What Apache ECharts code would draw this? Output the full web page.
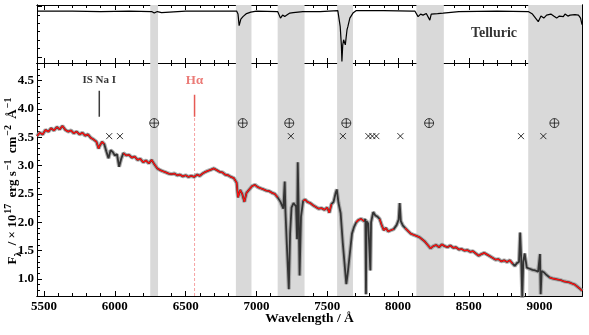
<!DOCTYPE html>
<html>
<head>
<meta charset="utf-8">
<script src="https://cdn.jsdelivr.net/npm/echarts@6/dist/echarts.min.js"></script>
<style>
  html, body { margin: 0; padding: 0; background: #fff; }
  #chart { width: 589px; height: 335px; }
</style>
</head>
<body>
<div id="chart"></div>
<script>
const wave = [5450, 5470, 5490, 5510, 5530, 5550, 5570, 5590, 5610, 5630, 5650, 5670, 5690, 5710, 5730, 5750, 5770, 5790, 5810, 5830,
  5850, 5870, 5885, 5895, 5910, 5925, 5940, 5955, 5970, 5985, 6000, 6015, 6030, 6045, 6060, 6080, 6100, 6120, 6140, 6160,
  6180, 6200, 6220, 6240, 6260, 6280, 6300, 6320, 6340, 6360, 6380, 6400, 6420, 6440, 6460, 6480, 6500, 6520, 6540, 6560,
  6580, 6600, 6620, 6640, 6660, 6680, 6700, 6720, 6740, 6760, 6780, 6800, 6820, 6840, 6860, 6870, 6885, 6900, 6915, 6930,
  6950, 6970, 6990, 7010, 7030, 7050, 7070, 7090, 7110, 7130, 7150, 7170, 7190, 7196, 7200, 7205, 7215, 7229, 7238, 7248,
  7262, 7280, 7287, 7292, 7298, 7305, 7315, 7330, 7345, 7360, 7380, 7400, 7420, 7440, 7460, 7480, 7500, 7515, 7530, 7545,
  7560, 7568, 7580, 7595, 7610, 7625, 7635, 7645, 7660, 7675, 7690, 7705, 7720, 7740, 7760, 7770, 7774, 7778, 7790, 7800,
  7805, 7810, 7825, 7840, 7855, 7870, 7885, 7900, 7915, 7930, 7950, 7970, 7990, 8005, 8012, 8020, 8035, 8050, 8070, 8090,
  8110, 8130, 8150, 8170, 8190, 8210, 8230, 8250, 8270, 8290, 8310, 8330, 8350, 8370, 8390, 8410, 8430, 8450, 8470, 8490,
  8510, 8530, 8550, 8570, 8590, 8610, 8630, 8650, 8670, 8690, 8710, 8730, 8750, 8770, 8790, 8810, 8825, 8840, 8855, 8863,
  8870, 8878, 8885, 8895, 8910, 8930, 8950, 8970, 8990, 9000, 9003, 9008, 9015, 9030, 9050, 9070, 9090, 9110, 9130, 9150,
  9170, 9190, 9210, 9230, 9250, 9270, 9290, 9300];
const flux = [3.52, 3.58, 3.55, 3.63, 3.60, 3.66, 3.62, 3.68, 3.64, 3.70, 3.63, 3.60, 3.62, 3.57, 3.60, 3.55, 3.58, 3.53, 3.55, 3.49,
  3.46, 3.42, 3.30, 3.36, 3.42, 3.38, 3.25, 3.13, 3.27, 3.24, 3.18, 3.20, 2.98, 3.12, 3.22, 3.18, 3.19, 3.14, 3.16, 3.10,
  3.12, 3.06, 3.09, 3.04, 3.10, 3.02, 2.95, 2.92, 2.90, 2.88, 2.86, 2.85, 2.86, 2.83, 2.84, 2.81, 2.83, 2.80, 2.82, 2.80,
  2.84, 2.82, 2.86, 2.89, 2.91, 2.93, 2.95, 2.92, 2.89, 2.88, 2.84, 2.83, 2.80, 2.78, 2.70, 2.44, 2.57, 2.50, 2.36, 2.52,
  2.58, 2.64, 2.66, 2.62, 2.60, 2.58, 2.56, 2.55, 2.52, 2.50, 2.44, 2.36, 2.24, 2.22, 2.72, 2.20, 1.60, 0.82, 1.80, 2.26,
  2.34, 2.28, 1.70, 3.06, 2.30, 1.06, 2.10, 2.38, 2.40, 2.36, 2.34, 2.30, 2.27, 2.24, 2.25, 2.22, 2.26, 2.17, 2.32, 2.36,
  2.52, 2.58, 2.34, 2.16, 1.64, 1.20, 0.91, 1.10, 1.45, 1.80, 1.92, 2.00, 2.04, 2.06, 2.02, 2.06, 0.73, 2.02, 1.98, 1.97,
  1.15, 2.00, 2.18, 2.12, 2.10, 2.06, 1.95, 1.86, 1.90, 1.84, 1.86, 1.88, 1.95, 2.05, 2.34, 2.02, 1.94, 1.90, 1.85, 1.80,
  1.78, 1.76, 1.74, 1.70, 1.66, 1.60, 1.54, 1.58, 1.60, 1.56, 1.61, 1.58, 1.56, 1.59, 1.55, 1.56, 1.52, 1.53, 1.50, 1.51,
  1.48, 1.49, 1.45, 1.41, 1.44, 1.46, 1.43, 1.40, 1.37, 1.34, 1.35, 1.31, 1.33, 1.30, 1.33, 1.27, 1.23, 1.28, 1.30, 1.82,
  1.40, 0.66, 1.30, 1.45, 1.20, 1.18, 1.16, 1.15, 1.13, 1.12, 1.44, 0.73, 1.14, 1.12, 1.07, 1.03, 1.01, 1.00, 0.99, 0.98,
  0.96, 0.95, 0.94, 0.92, 0.90, 0.86, 0.82, 0.79];
// wavelength ranges where the red model is not drawn
const modelGaps = [[5935, 6050], [7155, 7325], [7535, 7698], [7765, 7865], [7980, 8040], [8815, 9060]];

// telluric transmission, top panel
const tellWave = [5450, 5700, 5900, 6100, 6260, 6278, 6300, 6330, 6500, 6860, 6870, 6878, 6890, 6905, 6930, 6960, 7000, 7150, 7170, 7185,
  7200, 7215, 7236, 7260, 7328, 7450, 7575, 7592, 7600, 7604, 7610, 7616, 7628, 7640, 7646, 7660, 7682, 7706, 7900, 8100,
  8119, 8142, 8160, 8177, 8200, 8225, 8235, 8248, 8280, 8319, 8430, 8700, 8920, 8950, 8991, 9010, 9030, 9050, 9080, 9100,
  9121, 9140, 9168, 9180, 9200, 9216, 9250, 9275, 9290, 9300];
const tellTrans = [0.91, 0.91, 0.90, 0.91, 0.90, 0.87, 0.90, 0.88, 0.91, 0.91, 0.85, 0.62, 0.75, 0.80, 0.86, 0.89, 0.91, 0.90, 0.77, 0.83,
  0.80, 0.83, 0.87, 0.88, 0.90, 0.90, 0.92, 0.60, 0.24, -0.09, 0.24, 0.34, 0.24, 0.54, 0.60, 0.77, 0.87, 0.92, 0.92, 0.91,
  0.91, 0.80, 0.85, 0.83, 0.86, 0.73, 0.85, 0.83, 0.86, 0.87, 0.90, 0.91, 0.90, 0.85, 0.70, 0.81, 0.77, 0.83, 0.85, 0.81,
  0.77, 0.81, 0.80, 0.85, 0.81, 0.83, 0.84, 0.83, 0.77, 0.64];

// grey telluric bands
const bands = [[6250, 6305], [6855, 6965], [7150, 7340], [7570, 7682], [8130, 8324], [8920, 9300]];
// marker rows
const earthWave = [6278, 6903, 7232, 7635, 8220, 9105];
const earthLevel = 3.75;
const crossWave = [5960, 6036, 7243, 7611, 7791, 7819, 7847, 8017, 8869, 9027];
const crossLevel = 3.52;
// line markers
const naWave = 5890, naSpan = [3.86, 4.32];
const haWave = 6563, haSpan = [3.86, 4.25], haDash = [0.7, 3.86];
const labelLevel = 4.5;

// axes
const X_MIN = 5450, X_MAX = 9300;
const xMajor = [5500, 6000, 6500, 7000, 7500, 8000, 8500, 9000];
const xMinor = [];
for (let v = 5500; v <= 9300; v += 100) if (v % 500 !== 0) xMinor.push(v);
const yMajor = [1.0, 1.5, 2.0, 2.5, 3.0, 3.5, 4.0, 4.5];
const yMinor = [];
for (let v = 8; v <= 48; v++) if (v % 5 !== 0) yMinor.push(v / 10);
const tMajor = [0, 1];
const tMinor = [1 / 6, 2 / 6, 3 / 6, 4 / 6, 5 / 6];

const FONT = 'Liberation Serif';

const model = wave.map((w, i) =>
  modelGaps.some(g => w >= g[0] && w <= g[1]) ? [w, null] : [w, flux[i]]);
const obs = wave.map((w, i) => [w, flux[i]]);
const tell = tellWave.map((w, i) => [w, tellTrans[i]]);
const bandAreas = bands.map(b => [{ xAxis: b[0] }, { xAxis: b[1] }]);

function axis(extra, ticks, len) {
  return Object.assign({
    type: 'value',
    axisLine: { show: true, onZero: false, lineStyle: { color: '#000', width: 1 } },
    axisTick: { show: true, inside: true, length: len, customValues: ticks, lineStyle: { color: '#000', width: 1 } },
    axisLabel: { show: false },
    splitLine: { show: false }
  }, extra);
}

const xAxes = [];
const yAxes = [];
[0, 1].forEach(g => {
  ['bottom', 'top'].forEach(pos => {
    xAxes.push(axis({ gridIndex: g, position: pos, min: X_MIN, max: X_MAX }, xMajor, 5));
    xAxes.push(axis({ gridIndex: g, position: pos, min: X_MIN, max: X_MAX }, xMinor, 3));
  });
  const yr = g === 0 ? { min: -0.12, max: 1.03 } : { min: 0.7, max: 4.81 };
  const maj = g === 0 ? tMajor : yMajor;
  const mnr = g === 0 ? tMinor : yMinor;
  ['left', 'right'].forEach(pos => {
    yAxes.push(axis(Object.assign({ gridIndex: g, position: pos }, yr), maj, 5));
    yAxes.push(axis(Object.assign({ gridIndex: g, position: pos }, yr), mnr, 3));
  });
});

// labelled axes of the lower panel
xAxes[4].axisLabel = {
  show: true, customValues: xMajor, margin: 4, formatter: v => String(v),
  fontFamily: FONT, fontWeight: 'bold', fontSize: 13, color: '#000'
};
xAxes[4].name = 'Wavelength / Å';
xAxes[4].nameLocation = 'middle';
xAxes[4].nameGap = 16;
xAxes[4].nameMoveOverlap = false;
xAxes[4].nameTextStyle = { fontFamily: FONT, fontWeight: 'bold', fontSize: 13.5, color: '#000', verticalAlign: 'top' };

yAxes[4].axisLabel = {
  show: true, customValues: yMajor, margin: 3,
  fontFamily: FONT, fontWeight: 'bold', fontSize: 13, color: '#000',
  formatter: v => v.toFixed(1)
};
yAxes[4].name = '{b|F}{sb|λ}{b| / × 10}{sp|17}{b| erg s}{sp|−1}{b| cm}{sp|−2}{b| Å}{sp|−1}';
yAxes[4].nameLocation = 'middle';
yAxes[4].nameGap = 14;
yAxes[4].nameMoveOverlap = false;
yAxes[4].nameTextStyle = {
  color: '#000',
  rich: {
    b: { fontFamily: FONT, fontWeight: 'bold', fontSize: 13, color: '#000', lineHeight: 20, verticalAlign: 'middle' },
    sb: { fontFamily: FONT, fontWeight: 'bold', fontSize: 10, color: '#000', lineHeight: 20, verticalAlign: 'bottom', padding: [0, 3, 0, 0] },
    sp: { fontFamily: FONT, fontWeight: 'bold', fontSize: 10, color: '#000', lineHeight: 20, verticalAlign: 'top', padding: [0, 3, 0, 1] }
  }
};

const chart = echarts.init(document.getElementById('chart'), null, { renderer: 'canvas' });
chart.setOption({
  backgroundColor: '#fff',
  animation: false,
  grid: [
    { left: 37, right: 7, top: 5, height: 58, containLabel: false, outerBoundsMode: 'none' },
    { left: 37, right: 7, top: 63, bottom: 39, containLabel: false, outerBoundsMode: 'none' }
  ],
  xAxis: xAxes,
  yAxis: yAxes,
  series: [
    {
      type: 'line', xAxisIndex: 0, yAxisIndex: 0, data: tell, showSymbol: false,
      lineStyle: { color: '#000', width: 1.2 },
      markArea: { silent: true, itemStyle: { color: '#d9d9d9' }, data: bandAreas }
    },
    {
      type: 'scatter', xAxisIndex: 0, yAxisIndex: 0, symbolSize: 0, silent: true,
      data: [[8678, 0.47]],
      label: { show: true, position: 'inside', formatter: 'Telluric', fontFamily: FONT, fontWeight: 'bold', fontSize: 14, color: '#000' }
    },
    {
      type: 'line', xAxisIndex: 4, yAxisIndex: 4, showSymbol: false,
      data: [[haWave, haDash[0]], [haWave, haDash[1]]],
      lineStyle: { color: '#f6a3a3', width: 1, type: [3, 2] },
      markArea: { silent: true, itemStyle: { color: '#d9d9d9' }, data: bandAreas }
    },
    {
      type: 'line', xAxisIndex: 4, yAxisIndex: 4, data: obs, showSymbol: false,
      lineStyle: { color: '#9a9a9a', width: 4, opacity: 0.8 }
    },
    {
      type: 'line', xAxisIndex: 4, yAxisIndex: 4, data: obs, showSymbol: false,
      lineStyle: { color: '#333', width: 1.8 }
    },
    {
      type: 'line', xAxisIndex: 4, yAxisIndex: 4, data: model, showSymbol: false, connectNulls: false,
      lineStyle: { color: '#ff1010', width: 1.3 }
    },
    {
      type: 'line', xAxisIndex: 4, yAxisIndex: 4, showSymbol: false,
      data: [[naWave, naSpan[0]], [naWave, naSpan[1]]],
      lineStyle: { color: '#3c3c3c', width: 1.5 }
    },
    {
      type: 'line', xAxisIndex: 4, yAxisIndex: 4, showSymbol: false,
      data: [[haWave, haSpan[0]], [haWave, haSpan[1]]],
      lineStyle: { color: '#e65a55', width: 1.5 }
    },
    {
      type: 'scatter', xAxisIndex: 4, yAxisIndex: 4, silent: true,
      symbol: 'path://M10,0A10,10,0,1,1,10,20A10,10,0,1,1,10,0ZM0,10L20,10M10,0L10,20',
      symbolSize: 9,
      itemStyle: { color: 'none', borderColor: '#000', borderWidth: 0.9 },
      data: earthWave.map(w => [w, earthLevel])
    },
    {
      type: 'scatter', xAxisIndex: 4, yAxisIndex: 4, silent: true,
      symbol: 'path://M0,0L10,10M0,10L10,0',
      symbolSize: 6,
      itemStyle: { color: 'none', borderColor: '#000', borderWidth: 1 },
      data: crossWave.map(w => [w, crossLevel])
    },
    {
      type: 'scatter', xAxisIndex: 4, yAxisIndex: 4, symbolSize: 0, silent: true,
      data: [
        { value: [naWave, labelLevel], label: { formatter: 'IS Na I', color: '#000', fontSize: 11 } },
        { value: [haWave, labelLevel], label: { formatter: 'Hα', color: '#e65a55', fontSize: 13 } }
      ],
      label: { show: true, position: 'inside', fontFamily: FONT, fontWeight: 'bold' }
    }
  ]
});
</script>
</body>
</html>
